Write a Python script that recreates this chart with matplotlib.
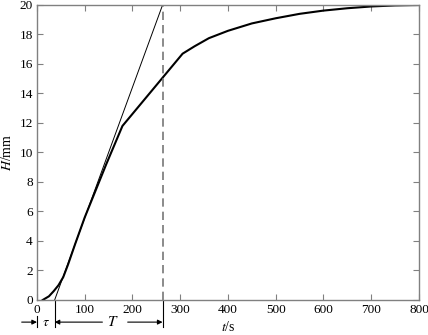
import numpy as np
import matplotlib.pyplot as plt

plt.rcParams['font.family'] = ['Liberation Serif', 'DejaVu Serif']
plt.rcParams['mathtext.fontset'] = 'stix'

# response curve
t = [12, 25, 35, 45, 55, 65, 80, 100, 145, 179, 305, 330, 360, 400, 450,
     500, 550, 600, 650, 700, 750, 800]
H = [0, 0.25, 0.6, 1.0, 1.55, 2.4, 3.8, 5.6, 9.2, 11.8, 16.7, 17.2, 17.75,
     18.25, 18.75, 19.1, 19.4, 19.62, 19.78, 19.9, 19.97, 20.0]

# tangent line: crosses 0 at tau, reaches 20 at t_end
tau = 37
t_end = 263
H_max = 20

xticks = list(range(0, 900, 100))
yticks = list(range(0, 22, 2))


def main():
    fig = plt.figure(figsize=(4.28, 3.35), dpi=100)
    ax = fig.add_axes([0.0864, 0.1045, 0.8925, 0.8806])

    ax.plot(t, H, color='black', lw=1.5)
    ax.plot([tau, t_end], [0, H_max], color='black', lw=0.7)
    ax.plot([t_end, t_end], [0, H_max], color='#777777', lw=1.2,
            ls=(0, (5, 3)))

    ax.set_xlim(0, 800)
    ax.set_ylim(0, 20)
    ax.set_xticks(xticks)
    ax.set_yticks(yticks)
    ax.tick_params(direction='in', top=True, right=True, length=4,
                   color='#808080', labelsize=9.5, pad=3)
    for s in ax.spines.values():
        s.set_color('#808080')
        s.set_linewidth(1.0)

    ax.set_ylabel(r'$H$/mm', fontsize=10, labelpad=4)
    ax.text(400, -0.092, r'$t$/s', transform=ax.get_xaxis_transform(),
            fontsize=10, ha='center', va='center')

    # tau / T markers under the axis
    tr = ax.get_xaxis_transform()
    yrow = -0.075
    ax.plot([0, 0], [-0.054, -0.092], color='black', lw=0.8,
            transform=tr, clip_on=False)
    ax.plot([tau, tau], [-0.005, -0.092], color='black', lw=0.8,
            transform=tr, clip_on=False)
    ax.plot([t_end, t_end], [-0.005, -0.092], color='black', lw=0.8,
            transform=tr, clip_on=False)
    arrow = dict(arrowstyle='-|>', color='black', lw=0.8,
                 mutation_scale=7, shrinkA=0, shrinkB=0)
    ax.annotate('', xy=(0, yrow), xytext=(-32, yrow), xycoords=tr,
                textcoords=tr, arrowprops=arrow, annotation_clip=False)
    ax.text(tau / 2, yrow, r'$\tau$', transform=tr, fontsize=10,
            ha='center', va='center')
    ax.annotate('', xy=(tau, yrow), xytext=(137, yrow), xycoords=tr,
                textcoords=tr, arrowprops=arrow, annotation_clip=False)
    ax.text(158, yrow, r'$T$', transform=tr, fontsize=11,
            ha='center', va='center')
    ax.annotate('', xy=(t_end, yrow), xytext=(190, yrow), xycoords=tr,
                textcoords=tr, arrowprops=arrow, annotation_clip=False)

    fig.savefig('out.png', dpi=100)


if __name__ == "__main__":
    main()
